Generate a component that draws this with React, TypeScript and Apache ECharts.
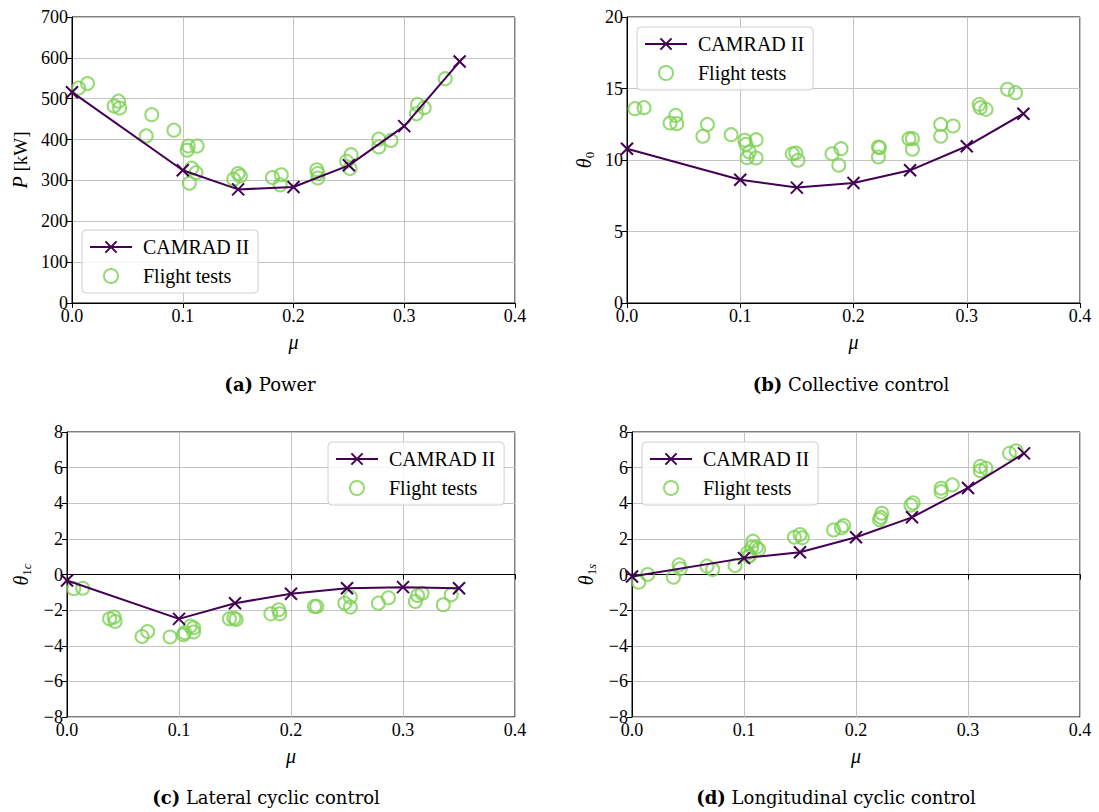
import React, { useEffect, useRef } from "react";
import * as echarts from "echarts";

const MU = [0, 0.1, 0.15, 0.2, 0.25, 0.3, 0.35];

const camradPower = [516, 325, 278, 284, 337, 433, 591];
const camradTheta0 = [10.79, 8.62, 8.07, 8.39, 9.28, 10.96, 13.24];
const camradTheta1c = [-0.34, -2.49, -1.61, -1.08, -0.77, -0.71, -0.77];
const camradTheta1s = [-0.11, 0.92, 1.25, 2.09, 3.21, 4.86, 6.8];

const flightMuA = [0.006, 0.014, 0.038, 0.042, 0.043, 0.067, 0.072, 0.092, 0.104, 0.105, 0.113, 0.108, 0.112, 0.106, 0.146, 0.15, 0.152, 0.181, 0.188, 0.189, 0.221, 0.222, 0.222, 0.248, 0.251, 0.252, 0.277, 0.277, 0.288, 0.311, 0.312, 0.318, 0.337];
const flightPower = [526, 537, 482, 494, 477, 409, 461, 423, 374, 384, 384, 330, 319, 293, 303, 317, 311, 307, 289, 314, 326, 317, 306, 347, 329, 363, 401, 382, 398, 463, 486, 478, 549];

const flightMuB = [0.007, 0.015, 0.038, 0.043, 0.044, 0.067, 0.071, 0.092, 0.104, 0.105, 0.114, 0.108, 0.106, 0.114, 0.146, 0.149, 0.151, 0.181, 0.189, 0.187, 0.222, 0.223, 0.222, 0.249, 0.252, 0.252, 0.277, 0.288, 0.277, 0.311, 0.312, 0.317, 0.336, 0.343];
const flightTheta0 = [13.59, 13.66, 12.59, 13.12, 12.54, 11.66, 12.49, 11.77, 11.38, 11.1, 11.42, 10.56, 10.16, 10.14, 10.44, 10.49, 9.98, 10.44, 10.79, 9.63, 10.91, 10.86, 10.21, 11.49, 11.49, 10.75, 12.49, 12.38, 11.66, 13.89, 13.66, 13.54, 14.94, 14.71];

const flightMuC = [0.006, 0.014, 0.038, 0.042, 0.043, 0.067, 0.072, 0.092, 0.104, 0.105, 0.11, 0.113, 0.113, 0.145, 0.151, 0.149, 0.182, 0.189, 0.19, 0.221, 0.223, 0.248, 0.253, 0.253, 0.278, 0.287, 0.311, 0.313, 0.317, 0.336, 0.343];
const flightTheta1c = [-0.8, -0.77, -2.49, -2.39, -2.64, -3.48, -3.2, -3.51, -3.38, -3.27, -2.9, -2.99, -3.23, -2.49, -2.52, -2.45, -2.21, -1.98, -2.21, -1.79, -1.79, -1.61, -1.27, -1.83, -1.61, -1.31, -1.51, -1.18, -1.05, -1.7, -1.14];

const flightMuD = [0.006, 0.014, 0.037, 0.042, 0.043, 0.067, 0.072, 0.092, 0.103, 0.104, 0.108, 0.107, 0.111, 0.113, 0.105, 0.145, 0.15, 0.152, 0.18, 0.187, 0.189, 0.221, 0.223, 0.222, 0.249, 0.251, 0.276, 0.276, 0.286, 0.311, 0.311, 0.316, 0.337, 0.343];
const flightTheta1s = [-0.43, 0, -0.15, 0.54, 0.32, 0.47, 0.28, 0.5, 1.2, 1.01, 1.87, 1.53, 1.53, 1.4, 1.07, 2.09, 2.24, 2.06, 2.5, 2.62, 2.75, 3.08, 3.44, 3.21, 3.89, 4.02, 4.65, 4.84, 5.03, 5.83, 6.07, 5.96, 6.8, 6.95];

const CAPTIONS = [
  ["(a)", "Power"],
  ["(b)", "Collective control"],
  ["(c)", "Lateral cyclic control"],
  ["(d)", "Longitudinal cyclic control"],
];

const PURPLE = "#440154";
const GREEN = "#7ad151";
const SERIF = "Liberation Serif";
const CAPTION_FONT = "DejaVu Serif";
const CROSS = "path://M0,0L10,10M10,0L0,10";

const zip = (a: number[], b: number[]) => a.map((v, i) => [v, b[i]]);

export default function App() {
  const ref = useRef<HTMLDivElement>(null);
  useEffect(() => {
    document.body.style.margin = "0";
    const chart = echarts.init(ref.current!, null, { renderer: "svg" });

    const grids = [
      { left: 72, top: 17, width: 443, height: 286 },
      { left: 627, top: 17, width: 453, height: 286 },
      { left: 67, top: 432, width: 448, height: 285 },
      { left: 632, top: 432, width: 448, height: 285 },
    ].map((g) => ({ ...g, show: true, borderColor: "#000", borderWidth: 1, backgroundColor: "transparent" }));

    const rich = {
      i: { fontFamily: SERIF, fontStyle: "italic", fontSize: 20, color: "#000", lineHeight: 24 },
      n: { fontFamily: SERIF, fontSize: 19, color: "#000", lineHeight: 24 },
      s: { fontFamily: SERIF, fontSize: 13, color: "#000", lineHeight: 24, verticalAlign: "bottom" },
      si: { fontFamily: SERIF, fontStyle: "italic", fontSize: 13, color: "#000", lineHeight: 24, verticalAlign: "bottom" },
    };

    const fmtMinus = (v: number) => String(v).replace("-", "\u2212");

    const xAxis = grids.map((_, k) => ({
      type: "value",
      gridIndex: k,
      min: 0,
      max: 0.4,
      interval: 0.1,
      name: "{i|\u03bc}",
      nameLocation: "middle",
      nameGap: 27,
      nameTextStyle: { rich },
      axisLine: { show: true, lineStyle: { color: "#000", width: 1 } },
      axisTick: { show: true, inside: false, length: 5, lineStyle: { color: "#000" } },
      axisLabel: {
        fontFamily: SERIF,
        fontSize: 18,
        color: "#000",
        margin: 4,
        formatter: (v: number) => v.toFixed(1),
      },
      splitLine: { show: true, lineStyle: { color: "#c4c4c4", width: 1 } },
    }));

    const yCfg = [
      { min: 0, max: 700, interval: 100, name: "{i|P}{n| [kW]}", gap: 40 },
      { min: 0, max: 20, interval: 5, name: "{i|\u03b8}{s|0}", gap: 31 },
      { min: -8, max: 8, interval: 2, name: "{i|\u03b8}{s|1}{si|c}", gap: 34 },
      { min: -8, max: 8, interval: 2, name: "{i|\u03b8}{s|1}{si|s}", gap: 34 },
    ];
    const yAxis = yCfg.map((c, k) => ({
      type: "value",
      gridIndex: k,
      min: c.min,
      max: c.max,
      interval: c.interval,
      name: c.name,
      nameLocation: "middle",
      nameRotate: 90,
      nameGap: c.gap,
      nameTextStyle: { rich },
      axisLine: { show: true, lineStyle: { color: "#000", width: 1 } },
      axisTick: { show: true, inside: false, length: 5, lineStyle: { color: "#000" } },
      axisLabel: { fontFamily: SERIF, fontSize: 18, color: "#000", margin: 4, formatter: fmtMinus },
      splitLine: { show: true, lineStyle: { color: "#c4c4c4", width: 1 } },
    }));

    const camrad = [camradPower, camradTheta0, camradTheta1c, camradTheta1s];
    const flights = [
      zip(flightMuA, flightPower),
      zip(flightMuB, flightTheta0),
      zip(flightMuC, flightTheta1c),
      zip(flightMuD, flightTheta1s),
    ];

    const series: any[] = [];
    camrad.forEach((vals, k) => {
      series.push({
        name: "CAMRAD II",
        type: "line",
        xAxisIndex: k,
        yAxisIndex: k,
        data: zip(MU, vals),
        symbol: CROSS,
        symbolSize: 12,
        showAllSymbol: true,
        clip: false,
        lineStyle: { color: PURPLE, width: 2 },
        itemStyle: { color: "rgba(0,0,0,0)", borderColor: PURPLE, borderWidth: 2 },
        z: 3,
      });
      series.push({
        name: "Flight tests",
        type: "scatter",
        xAxisIndex: k,
        yAxisIndex: k,
        data: flights[k],
        symbol: "circle",
        symbolSize: 13,
        itemStyle: { color: "rgba(0,0,0,0)", borderColor: GREEN, borderWidth: 2 },
        z: 2,
      });
    });

    const legendPos = [
      { left: 82, top: 230 },
      { left: 637, top: 27 },
      { left: 328, top: 442 },
      { left: 642, top: 442 },
    ];
    const legend = legendPos.map((p) => ({
      ...p,
      orient: "vertical",
      data: ["CAMRAD II", "Flight tests"],
      itemWidth: 42,
      itemHeight: 14,
      itemGap: 9,
      padding: [7, 9, 7, 7],
      backgroundColor: "rgba(255,255,255,0.85)",
      borderColor: "#d0d0d0",
      borderWidth: 1,
      borderRadius: 4,
      selectedMode: false,
      textStyle: { fontFamily: SERIF, fontSize: 20, color: "#000", padding: [0, 0, 0, 6] },
    }));

    const capPos = [
      [270, 384],
      [851, 384],
      [266, 797],
      [836, 797],
    ];
    const graphic = CAPTIONS.map(([lab, txt], k) => ({
      type: "text",
      x: capPos[k][0],
      y: capPos[k][1],
      style: {
        text: `{b|${lab}} {r|${txt}}`,
        align: "center",
        verticalAlign: "middle",
        rich: {
          b: { fontFamily: CAPTION_FONT, fontWeight: "bold", fontSize: 18, fill: "#000" },
          r: { fontFamily: CAPTION_FONT, fontSize: 18, fill: "#000" },
        },
        fill: "#000",
        fontFamily: CAPTION_FONT,
        fontSize: 18,
      },
    }));

    chart.setOption({
      animation: false,
      backgroundColor: "#fff",
      grid: grids,
      xAxis,
      yAxis,
      series,
      legend,
      graphic,
    });
    return () => chart.dispose();
  }, []);
  return <div ref={ref} style={{ width: 1099, height: 812 }} />;
}
